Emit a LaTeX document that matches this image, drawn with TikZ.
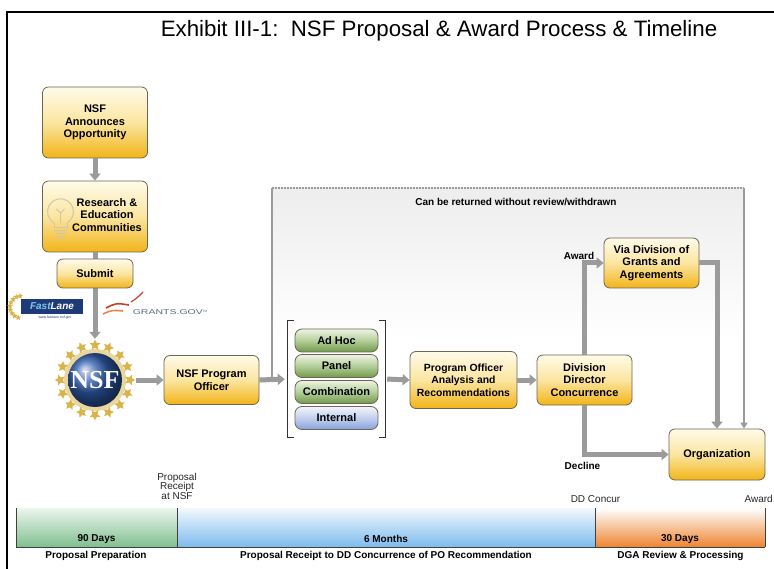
\documentclass[tikz,border=0pt]{standalone}
\usepackage{fontspec}
\setmainfont{Liberation Sans}
\newfontfamily\nsfserif{Liberation Serif}
\usepackage{graphicx}
\usetikzlibrary{arrows.meta,shapes.geometric,calc}
\definecolor{flowgray}{HTML}{9B9B9B}
\definecolor{boxtop}{HTML}{FFFBEA}
\definecolor{boxmid}{HTML}{FBE5A0}
\definecolor{boxbot}{HTML}{F2B418}
\definecolor{boxline}{HTML}{6E6553}
\definecolor{revtop}{HTML}{EEF4E6}
\definecolor{revmid}{HTML}{B4CE98}
\definecolor{revbot}{HTML}{6F9A4C}
\definecolor{inttop}{HTML}{F2F5FC}
\definecolor{intmid}{HTML}{C2D0EE}
\definecolor{intbot}{HTML}{86A2DC}
\definecolor{nsfgold}{HTML}{D8B44A}
\definecolor{nsfblue}{HTML}{2F5DAE}
\definecolor{fastblue}{HTML}{1F3A78}
\definecolor{fastcyan}{HTML}{7FC8F0}
\definecolor{grantsred}{HTML}{C8402A}
\definecolor{grantsorange}{HTML}{E8874A}
\definecolor{grantsgray}{HTML}{5B6B7C}
\definecolor{tlgreen}{HTML}{80BF8F}
\definecolor{tlblue}{HTML}{7DBBEE}
\definecolor{tlorange}{HTML}{EE8430}
\definecolor{bulbgray}{HTML}{CFC6AE}
\tikzset{
  procbox/.style={draw=boxline, line width=0.8pt, rounded corners=6pt, top color=boxtop, bottom color=boxbot, middle color=boxmid, align=center, inner sep=0pt, font=\bfseries\fontsize{11}{12.5}\selectfont},
  revbox/.style={draw=boxline, line width=0.8pt, rounded corners=7pt, top color=revtop, bottom color=revbot, middle color=revmid, minimum width=83pt, minimum height=23pt, inner sep=0pt, font=\bfseries\fontsize{11}{12}\selectfont},
  flow/.style={draw=flowgray, line width=5pt, -{Triangle[length=7pt,width=11pt]}},
  loopline/.style={draw=flowgray, line width=2pt},
  lbl/.style={font=\bfseries\fontsize{10}{12}\selectfont},
  tlmark/.style={font=\fontsize{10}{9.5}\selectfont, align=center, text=black!85}
}
\begin{document}
\begin{tikzpicture}[x=1pt, y=-1pt]
\useasboundingbox (0,0) rectangle (774,569);
\fill[white] (0,0) rectangle (774,569);
\draw[line width=1.2pt] (7,569) -- (7,12) -- (774,12);
\node[anchor=base, font=\fontsize{22.3}{26}\selectfont] (title) at (439,37) {Exhibit III-1:\ \ NSF Proposal \& Award Process \& Timeline};

\fill[top color=black!7, bottom color=white] (272,188) rectangle (744,340);

\node[procbox, minimum width=105pt, minimum height=71pt] (announce) at (95,122.5) {NSF\\Announces\\Opportunity};
\node[procbox, minimum width=105pt, minimum height=71pt] (research) at (95,216.5) {\hspace*{24pt}\begin{tabular}{@{}c@{}}Research \&\\Education\\Communities\end{tabular}};
\begin{scope}[draw=bulbgray, line width=1pt]
\draw (54,223) arc[start angle=240, end angle=-60, radius=13pt];
\draw (54,223) -- (54,228) -- (67,228) -- (67,223);
\draw (54,231) -- (67,231);
\draw (55,234) -- (66,234);
\draw (57,236) -- (60.5,239) -- (64,236);
\draw (56.5,209) -- (60.5,213) -- (64.5,209);
\draw (60.5,213) -- (60.5,223);
\end{scope}

\node[circle, minimum size=82pt, inner sep=0pt] (nsf) at (95,380) {};
\fill[nsfgold!55] (nsf.center) circle[radius=31pt];
\foreach \a in {0,22.5,...,337.5}
  \node[star, star points=5, star point ratio=2, fill=nsfgold, minimum size=11pt, inner sep=0pt, rotate=\a-90] at ($(nsf.center)+(\a:35pt)$) {};
\shade[ball color=nsfblue] (nsf.center) circle[radius=27pt];
\node[text=white, font=\nsfserif\bfseries\fontsize{26}{26}\selectfont] (nsftext) at (nsf.center) {NSF};

\draw[flow] (announce.south) -- (research.north);
\draw[flow] (research.south) -- (nsf.north);
\node[procbox, minimum width=76pt, minimum height=29pt] (submit) at (95,273.5) {Submit};

\foreach \a in {95,115,...,265}
  \node[star, star points=5, star point ratio=2.2, fill=nsfgold, minimum size=6pt, inner sep=0pt] at ($(21,307)+(\a:11pt)$) {};
\node[fill=fastblue, minimum width=62pt, minimum height=15pt, inner sep=0pt, font=\bfseries\itshape\fontsize{10}{10}\selectfont] (fastlane) at (52,306.5) {\textcolor{fastcyan}{Fast}\textcolor{white}{Lane}};
\node[fill=white, inner sep=0.5pt, font=\fontsize{3.5}{3.5}\selectfont, text=fastblue] (fasturl) at (55,318) {www.fastlane.nsf.gov};
\draw[grantsorange, line width=1.6pt] (103,314) .. controls (112,310) .. (123,311);
\draw[grantsred, line width=1.6pt] (106,308) .. controls (116,303) .. (129,305);
\draw[grantsred, line width=1.2pt] (131,302) .. controls (137,298) .. (143,292);
\node[text=grantsgray, font=\fontsize{7}{7}\selectfont] (grantsgov) at (170,312) {\scalebox{1.5}[1]{GRANTS.GOV}\raisebox{2pt}{\fontsize{3}{3}\selectfont TM}};

\node[procbox, minimum width=95pt, minimum height=49pt] (officer) at (211.5,380) {NSF Program\\Officer};
\draw[flow] (nsf.east) -- (officer.west);

\node[minimum width=97pt, minimum height=116pt, inner sep=0pt] (review) at (336.5,379) {};
\draw[line width=1.3pt, black!80] ([xshift=6pt]review.north west) -- (review.north west) -- (review.south west) -- ([xshift=6pt]review.south west);
\draw[line width=1.3pt, black!80] ([xshift=-6pt]review.north east) -- (review.north east) -- (review.south east) -- ([xshift=-6pt]review.south east);
\node[revbox] (adhoc) at (336.5,340.5) {Ad Hoc};
\node[revbox] (panel) at (336.5,366) {Panel};
\node[revbox] (combination) at (336.5,392) {Combination};
\node[revbox, top color=inttop, bottom color=intbot, middle color=intmid] (internal) at (336.5,418) {Internal};

\coordinate (junction) at (272,380);
\coordinate (loopNW) at (272,188);
\coordinate (loopNE) at (744,188);
\draw[flow, shorten >=3pt] (officer.east) -- (review.west);
\draw[loopline] (junction) -- (loopNW);
\draw[loopline, dash pattern=on 1.5pt off 1.5pt] (loopNW) -- (loopNE);
\node[lbl] (returned) at (516,202) {Can be returned without review/withdrawn};

\node[procbox, minimum width=107pt, minimum height=57pt, font=\bfseries\fontsize{10.4}{12.3}\selectfont] (analysis) at (463.5,380) {Program Officer\\Analysis and\\Recommendations};
\node[procbox, minimum width=95pt, minimum height=50pt] (division) at (584.5,380) {Division\\Director\\Concurrence};
\node[procbox, minimum width=95pt, minimum height=50pt] (dga) at (651.5,263) {Via Division of\\Grants and\\Agreements};
\node[procbox, minimum width=96pt, minimum height=51pt] (org) at (717,454.5) {Organization};

\draw[loopline, -{Triangle[length=6pt,width=7pt]}] (loopNE) -- (loopNE |- org.north);
\draw[flow, shorten <=2pt] (review.east) -- (analysis.west);
\draw[flow] (analysis.east) -- (division.west);
\draw[flow] (division.north) |- (dga.west);
\draw[flow] (dga.east) -| (org.north);
\draw[flow] (division.south) |- (org.west);
\node[lbl] (award) at (579,256) {Award};
\node[lbl] (decline) at (582.5,466) {Decline};

\shade[top color=tlgreen!15, bottom color=tlgreen] (16,508) rectangle (177,547);
\shade[top color=tlblue!10, bottom color=tlblue] (177,508) rectangle (595,547);
\shade[top color=white, bottom color=tlorange] (595,508) rectangle (765,547);
\foreach \x in {16,177,595,765}
  \draw[black!75, line width=0.8pt] (\x,508) -- (\x,547);
\draw[black!75, line width=0.8pt] (16,547) -- (765,547);
\node[tlmark] (receiptmark) at (177,486) {Proposal\\Receipt\\at NSF};
\node[tlmark] (concurmark) at (595.5,499) {DD Concur};
\node[tlmark, anchor=east, inner xsep=1pt] (awardmark) at (774,499) {Award};
\node[lbl] (prepdays) at (96.5,539) {90 Days};
\node[lbl] (reviewmonths) at (386,539) {6 Months};
\node[lbl] (dgadays) at (680,539) {30 Days};
\node[lbl] (prep) at (96,556) {Proposal Preparation};
\node[lbl] (receipt) at (386,556) {Proposal Receipt to DD Concurrence of PO Recommendation};
\node[lbl] (dgareview) at (680.5,556) {DGA Review \& Processing};
\end{tikzpicture}
\end{document}
